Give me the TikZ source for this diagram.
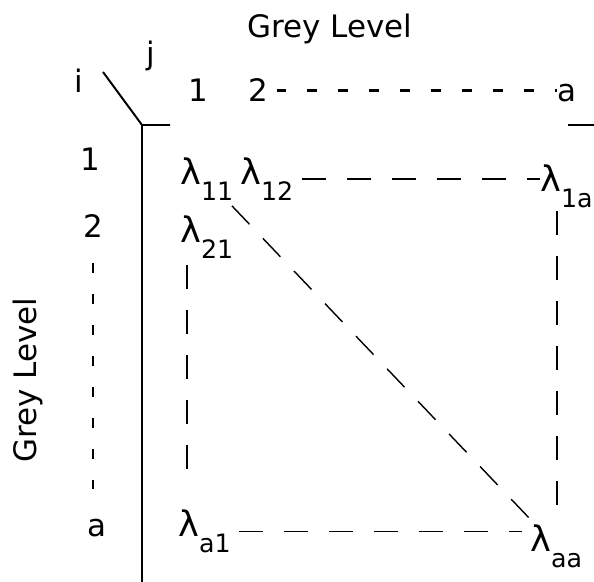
\documentclass[tikz,border=0pt]{standalone}
\usepackage{fontspec}
\setmainfont{DejaVu Sans}
\usetikzlibrary{positioning, calc}

\newcommand\lam[1]{\fontsize{25}{27}\selectfont λ\raisebox{-11pt}{\fontsize{18}{20}\selectfont #1}}

\begin{document}
\begin{tikzpicture}[
    x=0.025cm, y=-0.025cm,
    every node/.style={font=\fontsize{22}{26}\selectfont, inner sep=0pt},
    ent/.style={anchor=base west},
    axis/.style={line width=1.4pt},
    idx/.style={line width=1.5pt, dash pattern=on 7pt off 15pt},
    cell/.style={line width=1.3pt, dash pattern=on 17pt off 15pt},
    diag/.style={line width=1pt, dash pattern=on 18pt off 14pt}
]
\useasboundingbox (0,0) rectangle (594,582);

% axis titles
\node[anchor=base] (xlab) at (330,38) {Grey Level};
\node[rotate=90] (ylab) at (28,380) {Grey Level};
\node[anchor=base] (ilab) at (79,93) {i};
\node (jlab) at (151,56) {j};

% column indices
\node[anchor=base] (t1) at (198,102) {1};
\node[anchor=base] (t2) at (258,102) {2};
\node[anchor=base] (ta) at (567,102) {a};

% row indices
\node (l1) at (90,159) {1};
\node (l2) at (93,226) {2};
\node (la) at (97,528) {a};

% matrix entries
\node[ent] (m11) at (180,185) {\lam{11}};
\node[ent] (m12) at (240,185) {\lam{12}};
\node[ent] (m1a) at (540,192) {\lam{1a}};
\node[ent] (m21) at (180,243) {\lam{21}};
\node[ent] (ma1) at (178,537) {\lam{a1}};
\node[ent] (maa) at (530,552) {\lam{aa}};

% axes
\coordinate (slash) at (103,72);
\coordinate (corner) at (142,125);
\coordinate (tick) at (170,125);
\coordinate (axbot) at (142,582);
\coordinate (rtl) at (568,125);
\coordinate (rtr) at (594,125);
\draw[axis] (slash) -- (corner) -- (tick);
\draw[axis] (corner) -- (axbot);
\draw[axis] (rtl) -- (rtr);

% index dashes
\draw[idx, shorten <=6pt] (t2.east) -- (t2.east -| ta.west);
\draw[idx, shorten <=18pt, shorten >=14pt] (l2.south) -- (l2.south |- la.north);

% matrix dashes
\coordinate (rtop) at ($(m1a.south west)+(17,3)$);
\coordinate (ltop) at ($(m21.south west)+(7,6)$);
\draw[cell, shorten <=6pt] (m12.east) -- (m12.east -| m1a.west);
\draw[cell] (rtop) -- (rtop |- maa.north);
\draw[cell, shorten >=18pt] (ltop) -- (ltop |- ma1.north);
\draw[cell, shorten <=6pt, shorten >=6pt] (ma1.east) -- (ma1.east -| maa.west);
\draw[diag, shorten <=5pt] (m11) -- (maa);
\end{tikzpicture}
\end{document}
